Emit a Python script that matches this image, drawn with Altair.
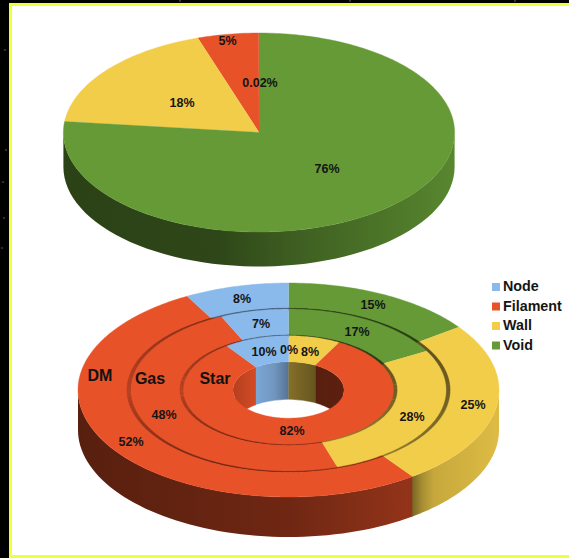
import altair as alt
import numpy as np
import pandas as pd

# Segment order, clockwise from twelve o'clock
SEGMENTS = ["Void", "Wall", "Filament", "Node"]
LEGEND_ORDER = ["Node", "Filament", "Wall", "Void"]

# Volume shares of the cosmic web
VOLUME = [76, 18, 5, 0.02]
VOLUME_LABELS = ["76%", "18%", "5%", "0.02%"]

# Mass shares per component
DM = [15, 25, 52, 8]
GAS = [17, 28, 48, 7]
STAR = [0, 8, 82, 10]
DM_LABELS = ["15%", "25%", "52%", "8%"]
GAS_LABELS = ["17%", "28%", "48%", "7%"]
STAR_LABELS = ["0%", "8%", "82%", "10%"]
RING_NAMES = ["DM", "Gas", "Star"]

COLORS = {"Node": "#8AB9EC", "Filament": "#E85229", "Wall": "#F2CD4A", "Void": "#659A36"}

W, H = 569, 558
rows = []
poly_id = 0

x_scale = alt.Scale(domain=[0, W], range=[0, W])
y_scale = alt.Scale(domain=[0, H], range=[0, H])
X = alt.X("x:Q", scale=x_scale, axis=None)
Y = alt.Y("y:Q", scale=y_scale, axis=None)


def shade(hex_color, k):
    rgb = [int(hex_color[i:i + 2], 16) for i in (1, 3, 5)]
    return "#" + "".join(f"{int(min(255, c * k)):02x}" for c in rgb)


def add_poly(xs, ys, fill):
    global poly_id
    poly_id += 1
    for i, (x, y) in enumerate(zip(xs, ys)):
        rows.append({"poly": poly_id, "i": i, "x": float(x), "y": float(y), "fill": fill})


def ell(cx, cy, rx, ry, deg):
    a = np.radians(deg)
    return cx + rx * np.sin(a), cy - ry * np.cos(a)


def bounds(shares):
    s = np.array(shares, dtype=float)
    return np.concatenate([[0], np.cumsum(s)]) / s.sum() * 360


def seg_at(edges, deg):
    deg = deg % 360
    for k in range(4):
        if edges[k] <= deg < edges[k + 1]:
            return k
    return 3


def annulus(cx, cy, out_axes, in_axes, a0, a1, fill):
    n = max(2, int(abs(a1 - a0)) + 2)
    t = np.linspace(a0, a1, n)
    xo, yo = ell(cx, cy, out_axes[0], out_axes[1], t)
    if in_axes is not None:
        xi, yi = ell(cx, cy, in_axes[0], in_axes[1], t[::-1])
    else:
        xi, yi = np.array([cx]), np.array([cy])
    add_poly(np.concatenate([xo, xi]), np.concatenate([yo, yi]), fill)


def wall(cx, cy, rx, ry, depth, a0, a1, base, stops):
    """One side face, shaded from left to right across its width."""
    t = np.linspace(a0, a1, 60)
    x, y = ell(cx, cy, rx, ry, t)
    frame = pd.DataFrame({
        "x": np.concatenate([x, x[::-1]]),
        "y": np.concatenate([y, y[::-1] + depth]),
    })
    frame["i"] = range(len(frame))
    gradient = alt.Gradient(
        gradient="linear", x1=0, x2=1, y1=0, y2=0,
        stops=[alt.GradientStop(offset=o, color=shade(base, k)) for o, k in stops],
    )
    return (
        alt.Chart(frame)
        .mark_line(fill=gradient, strokeWidth=0, interpolate="linear")
        .encode(x=X, y=Y, order=alt.Order("i:Q"))
    )


walls = []

# --- upper disc ---
cx1, cy1, rx1, ry1, d1 = 259.0, 132.5, 195.6, 99.5, 34.5
edges1 = bounds(VOLUME)
walls.append(wall(cx1, cy1, rx1, ry1, d1, 90, 270, COLORS["Void"],
                  [(0, 0.43), (0.39, 0.46), (0.6, 0.62), (1, 0.88)]))
# the vanishing node slice goes down first so its neighbours keep their edge
for k in (3, 2, 1, 0):
    annulus(cx1, cy1, (rx1, ry1), None, edges1[k], edges1[k + 1], COLORS[SEGMENTS[k]])

# --- lower ring chart ---
cx2, cy2, d2 = 288.5, 390.0, 40.0
ratio = 107 / 210.5
R_DM, R_DM_IN, R_GAS, R_GAS_IN, R_STAR, R_HOLE = 210.5, 162.0, 157.5, 109.0, 105.0, 55.5
eD, eG, eS = bounds(DM), bounds(GAS), bounds(STAR)


def axes(r, lift=0.0):
    return (r, r * ratio + lift)


walls.append(wall(cx2, cy2, R_DM, R_DM * ratio, d2, eD[2] - 0.3, 270, COLORS["Filament"],
                  [(0, 0.38), (0.63, 0.48), (1, 0.64)]))
walls.append(wall(cx2, cy2, R_DM, R_DM * ratio, d2, 90, eD[2], COLORS["Wall"],
                  [(0, 0.50), (0.12, 0.70), (0.25, 0.82), (1, 0.92)]))

# inner shaft, far side only
ry_h = R_HOLE * ratio
walls.append(wall(cx2, cy2, R_HOLE, ry_h, d2, 255, eS[3] + 0.3, COLORS["Filament"], [(0, 0.78), (1, 0.92)]))
walls.append(wall(cx2, cy2, R_HOLE, ry_h, d2, eS[3], 360.3, COLORS["Node"], [(0, 0.90), (0.55, 0.82), (1, 0.62)]))
walls.append(wall(cx2, cy2, R_HOLE, ry_h, d2, 0, eS[2] + 0.3, COLORS["Wall"], [(0, 0.55), (1, 0.42)]))
walls.append(wall(cx2, cy2, R_HOLE, ry_h, d2, eS[2], 100, COLORS["Filament"], [(0, 0.38), (1, 0.40)]))

t = np.linspace(0, 360, 121)
xh, yh = ell(cx2, cy2 + d2 - 2, R_HOLE, ry_h, t)
add_poly(xh, yh, "#ffffff")

# grooves between rings take the colour of the ring outside them
groove_a = [0, 60, 110, 150, 200, 270, 320, 360]
groove_k = [0.42, 0.40, 0.50, 0.62, 0.42, 0.80, 0.60, 0.42]
for edges, r0, r1 in ((eD, R_DM_IN, R_GAS), (eG, R_GAS_IN, R_STAR)):
    for a in np.arange(0, 360, 2.0):
        seg = seg_at(edges, a + 1)
        annulus(cx2, cy2, axes(r0 + 0.5), axes(r1 - 0.5), a, a + 2.4,
                shade(COLORS[SEGMENTS[seg]], np.interp(a + 1, groove_a, groove_k)))

# flat ring tops; the inner edge of the groove sits a little wider on the short axis
for edges, outer, inner in (
    (eD, axes(R_DM), axes(R_DM_IN)),
    (eG, axes(R_GAS, 0.9), axes(R_GAS_IN)),
    (eS, axes(R_STAR, 0.9), axes(R_HOLE)),
):
    for k, seg in enumerate(SEGMENTS):
        if edges[k + 1] > edges[k]:
            annulus(cx2, cy2, outer, inner, edges[k], edges[k + 1], COLORS[seg])

polys = pd.DataFrame(rows)

# Backdrop: black sky with a few faint stars showing round the frame
SPECK_X = [5, 3, 6, 2, 4, 180, 350, 515]
SPECK_Y = [50, 182, 150, 248, 218, 1, 1, 1]
specks = (
    alt.Chart(pd.DataFrame({"x": SPECK_X, "y": SPECK_Y}))
    .mark_circle(size=5, color="#5a3a55", opacity=0.8)
    .encode(x=X, y=Y)
)

# White card with the yellow frame; its right side runs off the canvas
card = (
    alt.Chart(pd.DataFrame({"x": [10.5], "x2": [590], "y": [4.5], "y2": [556.5]}))
    .mark_rect(fill="#ffffff", stroke="#EFFF3C", strokeWidth=3)
    .encode(x=X, x2="x2:Q", y=Y, y2="y2:Q")
)

shapes = (
    alt.Chart(polys)
    .mark_line(strokeWidth=0.4, interpolate="linear")
    .encode(
        x=X, y=Y,
        order=alt.Order("i:Q"),
        detail="poly:N",
        fill=alt.Fill("fill:N", scale=None),
        stroke=alt.Stroke("fill:N", scale=None),
    )
)

# Text placement, in chart coordinates
VOLUME_SPOTS = [(327, 169), (182, 103), (227.5, 41), (260, 83)]
DM_SPOTS = [(373, 305), (473, 405), (131, 442), (242, 299)]
GAS_SPOTS = [(357, 332), (412, 417), (164, 415), (261, 324)]
STAR_SPOTS = [(289, 350), (310, 352), (292, 431), (264, 352)]
RING_SPOTS = [(100, 376), (150, 379), (215, 379)]

value_labels = []
for labs, spots in ((VOLUME_LABELS, VOLUME_SPOTS), (DM_LABELS, DM_SPOTS), (GAS_LABELS, GAS_SPOTS), (STAR_LABELS, STAR_SPOTS)):
    for lab, (x, y) in zip(labs, spots):
        value_labels.append({"label": lab, "x": x, "y": y})

FONT = "Liberation Sans"
percent_text = (
    alt.Chart(pd.DataFrame(value_labels))
    .mark_text(font=FONT, fontWeight="bold", fontSize=12.5, color="#151515", align="center", baseline="middle")
    .encode(x=X, y=Y, text="label:N")
)
ring_text = (
    alt.Chart(pd.DataFrame([{"label": n, "x": p[0], "y": p[1]} for n, p in zip(RING_NAMES, RING_SPOTS)]))
    .mark_text(font=FONT, fontWeight="bold", fontSize=16, color="#111111", align="center", baseline="middle")
    .encode(x=X, y=Y, text="label:N")
)

LEGEND_ROWS = [287, 306.5, 326, 345.5]
legend = pd.DataFrame({
    "label": LEGEND_ORDER,
    "fill": [COLORS[s] for s in LEGEND_ORDER],
    "x": [496] * 4,
    "tx": [503] * 4,
    "y": LEGEND_ROWS,
})
legend_marks = (
    alt.Chart(legend)
    .mark_square(size=64, opacity=1, filled=True)
    .encode(x=X, y=Y, fill=alt.Fill("fill:N", scale=None))
)
legend_text = (
    alt.Chart(legend)
    .mark_text(font=FONT, fontWeight="bold", fontSize=14.3, color="#151515", align="left", baseline="middle")
    .encode(x=alt.X("tx:Q", scale=x_scale, axis=None), y=Y, text="label:N")
)

chart = (
    alt.layer(specks, card, *walls, shapes, percent_text, ring_text, legend_marks, legend_text)
    .properties(width=W, height=H, padding=0, autosize=alt.AutoSizeParams(type="none"), background="#000000")
    .configure_view(stroke=None)
)

chart.save("out.html", embed_options={"renderer": "svg", "actions": False})
